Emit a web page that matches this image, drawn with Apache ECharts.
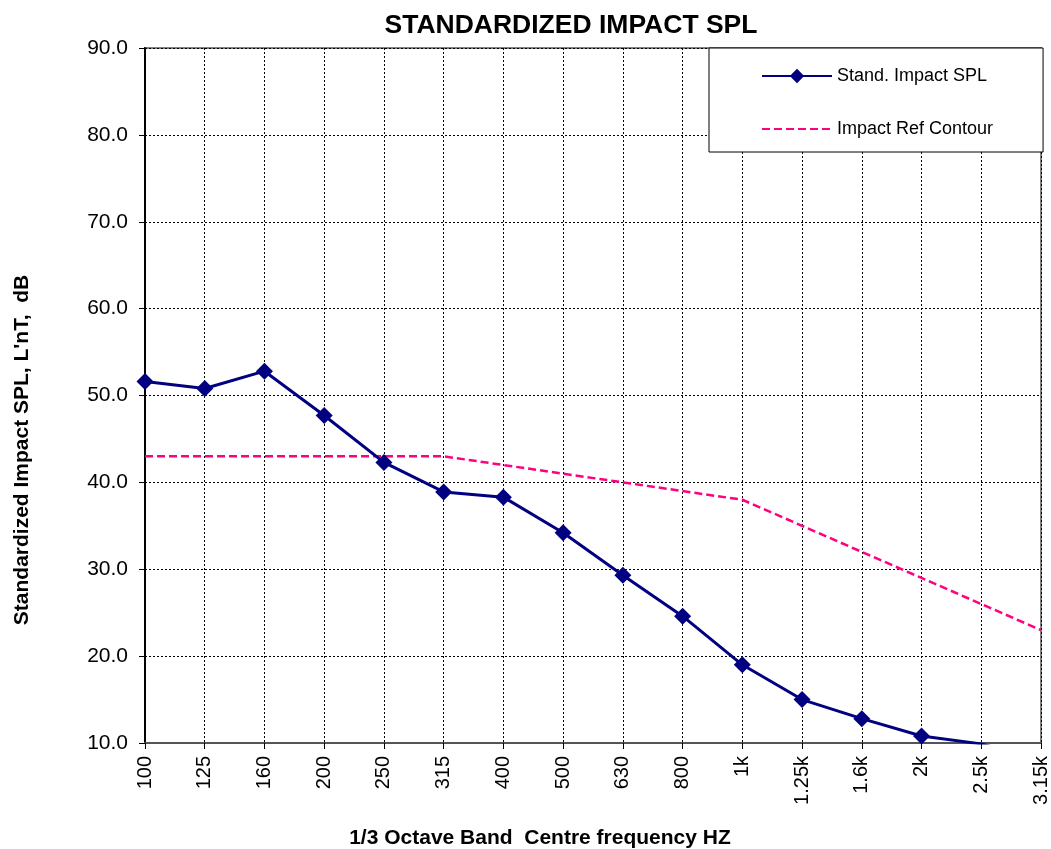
<!DOCTYPE html>
<html>
<head>
<meta charset="utf-8">
<script src="https://cdn.jsdelivr.net/npm/echarts@6/dist/echarts.min.js"></script>
<style>html,body{margin:0;padding:0;background:#fff}#c{width:1051px;height:849px}</style>
</head>
<body>
<div id="c"></div>
<script>
const categories = ['100','125','160','200','250','315','400','500','630','800','1k','1.25k','1.6k','2k','2.5k','3.15k'];
const impactSPL = [51.6, 50.8, 52.8, 47.7, 42.3, 38.9, 38.3, 34.2, 29.3, 24.6, 19.0, 15.0, 12.8, 10.8, 9.9, 8.0];
const refContour = [43, 43, 43, 43, 43, 43, 42, 41, 40, 39, 38, 35, 32, 29, 26, 23];
const yTicks = {min: 10, max: 90, interval: 10};

const chart = echarts.init(document.getElementById('c'));
const font = 'Liberation Sans, Arial, sans-serif';
chart.setOption({
  animation: false,
  title: {
    text: 'STANDARDIZED IMPACT SPL',
    left: 566, top: 7, textAlign: 'center',
    textStyle: {fontFamily: font, fontSize: 26.5, fontWeight: 'bold', color: '#000'}
  },
  legend: {
    orient: 'vertical',
    left: 709, top: 48,
    padding: [19, 50, 14, 52],
    itemGap: 35,
    itemWidth: 70, itemHeight: 18,
    backgroundColor: '#fff',
    borderColor: '#000', borderWidth: 1,
    textStyle: {fontFamily: font, fontSize: 18, color: '#000'},
    data: [
      {name: 'Stand. Impact SPL'},
      {name: 'Impact Ref Contour', itemStyle: {opacity: 0}}
    ]
  },
  grid: {left: 145, right: 6, top: 48, bottom: 106, show: true, borderColor: '#808080', borderWidth: 2, backgroundColor: 'transparent'},
  xAxis: {
    type: 'category', data: categories, boundaryGap: false,
    axisLine: {lineStyle: {color: '#555', width: 2}},
    axisTick: {show: true, length: 6, alignWithLabel: true, lineStyle: {color: '#000'}},
    axisLabel: {rotate: 90, fontFamily: font, fontSize: 20, color: '#000', margin: 13, interval: 0},
    splitLine: {show: true, lineStyle: {color: '#000', type: [2, 2], width: 1}}
  },
  yAxis: {
    type: 'value', min: yTicks.min, max: yTicks.max, interval: yTicks.interval,
    axisLine: {show: true, lineStyle: {color: '#000', width: 2}},
    axisTick: {show: true, length: 6, lineStyle: {color: '#000'}},
    axisLabel: {fontFamily: font, fontSize: 21, color: '#000', margin: 17, formatter: v => v.toFixed(1)},
    splitLine: {show: true, lineStyle: {color: '#000', type: [2, 2], width: 1}}
  },
  graphic: [
    {type: 'text', x: 540, y: 838, style: {text: '1/3 Octave Band  Centre frequency HZ', font: 'bold 21px Liberation Sans, Arial, sans-serif', fill: '#000', align: 'center', verticalAlign: 'middle'}},
    {type: 'text', x: 22, y: 450, rotation: Math.PI / 2, style: {text: "Standardized Impact SPL, L'nT,  dB", font: 'bold 21px Liberation Sans, Arial, sans-serif', fill: '#000', align: 'center', verticalAlign: 'middle'}}
  ],
  series: [
    {
      name: 'Stand. Impact SPL', type: 'line', data: impactSPL,
      symbol: 'diamond', symbolSize: 17, clip: true,
      itemStyle: {color: '#000080'},
      lineStyle: {color: '#000080', width: 3},
      z: 3
    },
    {
      name: 'Impact Ref Contour', type: 'line', data: refContour,
      symbol: 'none', clip: true,
      itemStyle: {color: '#FF0080'},
      lineStyle: {color: '#FF0080', width: 2.5, type: [8, 4]},
      z: 2
    }
  ]
});
</script>
</body>
</html>
